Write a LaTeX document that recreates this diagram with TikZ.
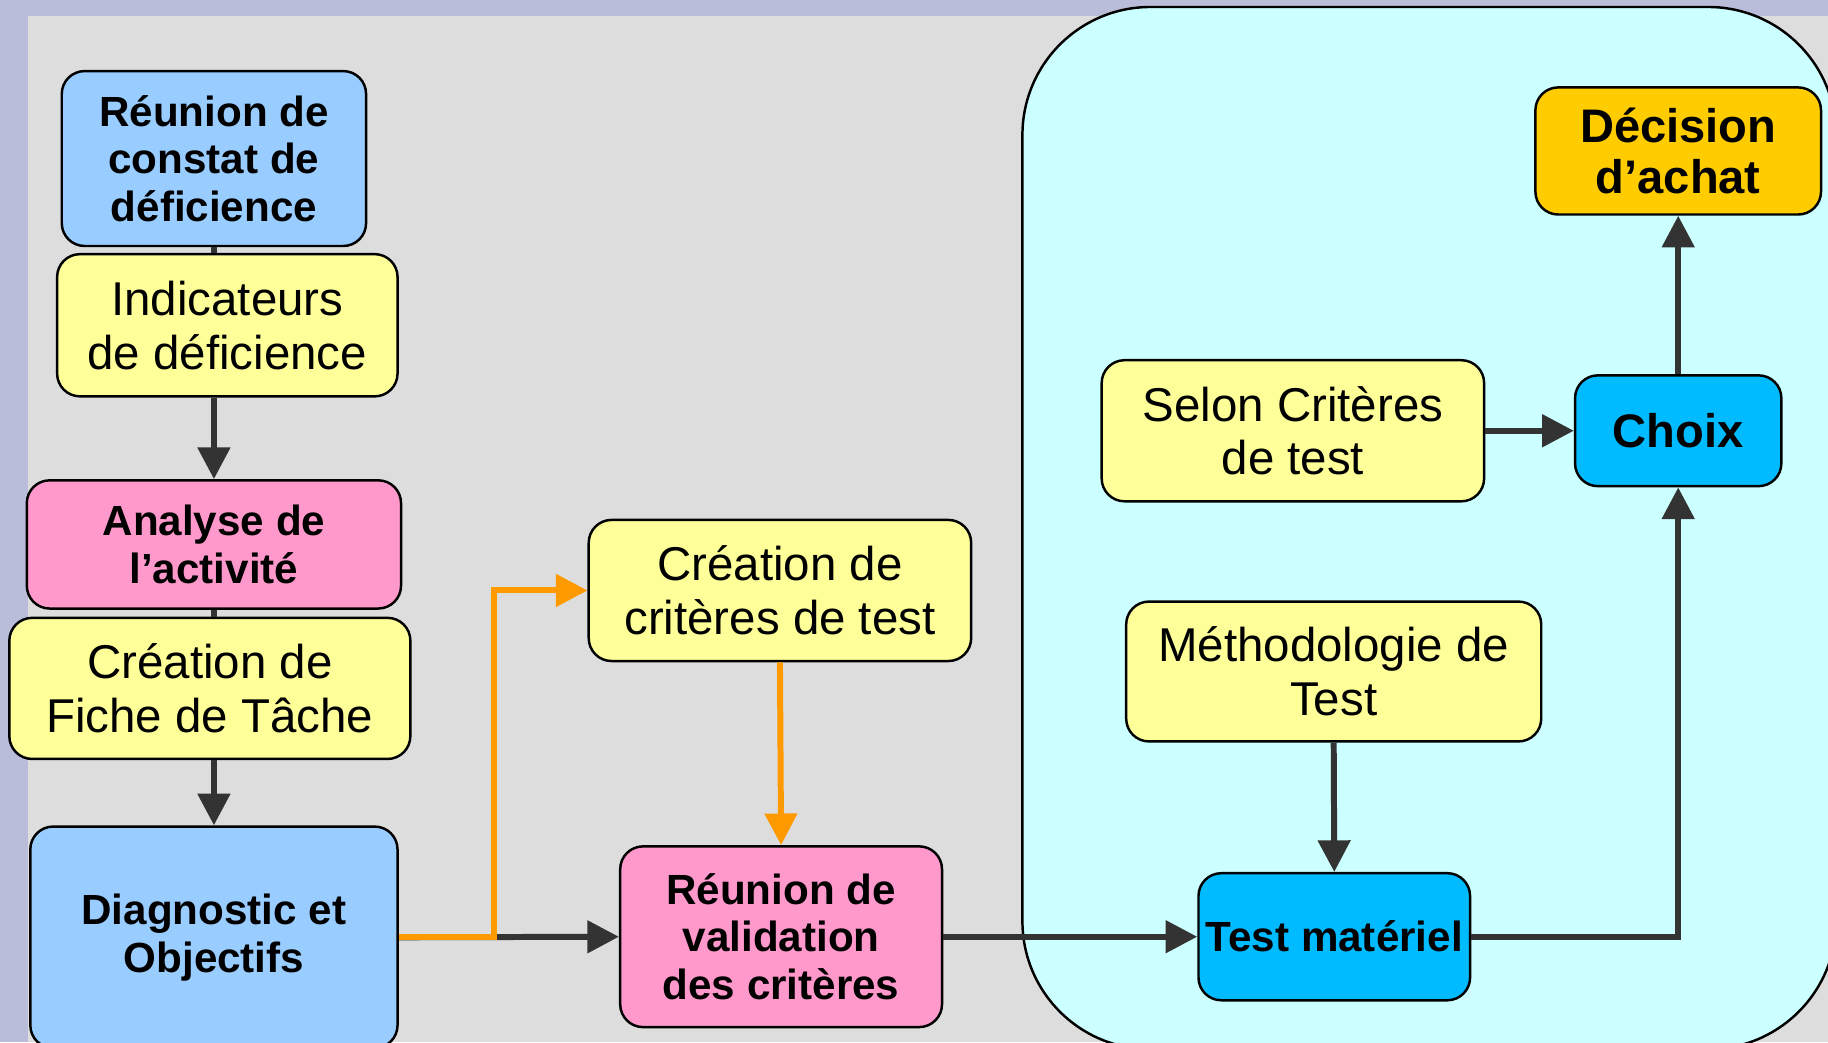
\documentclass[tikz,border=0pt]{standalone}
\usepackage{fontspec}
\setmainfont{Liberation Sans}
\usepackage{tikz}
\usetikzlibrary{arrows.meta, positioning, calc}

\definecolor{lavande}{HTML}{B9BDD9}
\definecolor{fond}{HTML}{DDDDDD}
\definecolor{zone}{HTML}{CCFFFF}
\definecolor{jaune}{HTML}{FFFF99}
\definecolor{bleu}{HTML}{99CCFF}
\definecolor{rose}{HTML}{FF99CC}
\definecolor{vif}{HTML}{00BBFF}
\definecolor{or}{HTML}{FFCC00}
\definecolor{orange}{HTML}{FF9900}
\definecolor{sombre}{HTML}{333333}

\begin{document}
\begin{tikzpicture}[x=0.011658cm, y=-0.011658cm,
	box/.style={draw, line width=0.7pt, rounded corners=6.5pt, align=center, inner sep=1pt},
	txtbox/.style={box, fill=jaune, font=\fontsize{13.5}{15.3}\selectfont},
	keybox/.style={box, font=\fontsize{12}{13.6}\selectfont\bfseries},
	link/.style={draw=sombre, line width=1.7pt},
	arrow/.style={link, -{Triangle[length=9pt,width=9pt]}},
	orangearrow/.style={arrow, draw=orange}]
	\useasboundingbox (0,0) rectangle (1568,894);
	% fond
	\begin{scope}
		\clip (0,0) rectangle (1568,894);
		\fill[lavande] (0,0) rectangle (1568,894);
		\fill[fond] (24,14) rectangle (1568,894);
		\draw[fill=zone, line width=0.7pt, rounded corners=1.28cm] (877,6) rectangle (1575,900);
	\end{scope}

	% colonne de gauche
	\node[keybox, fill=bleu, minimum width=3.043cm, minimum height=1.749cm] (reunion) at (183.5,136) {Réunion de\\constat de\\déficience};
	\node[txtbox, minimum width=3.404cm, minimum height=1.422cm] (indic) at (195,279) {Indicateurs\\de déficience};
	\node[keybox, fill=rose, minimum width=3.742cm, minimum height=1.282cm] (analyse) at (183.5,467) {Analyse de\\l’activité};
	\node[txtbox, minimum width=4.010cm, minimum height=1.411cm] (fiche) at (180,590.5) {Création de\\Fiche de Tâche};
	\node[keybox, fill=bleu, minimum width=3.672cm, minimum height=2.215cm] (diag) at (183.5,804) {Diagnostic et\\Objectifs};

	% milieu
	\node[txtbox, minimum width=3.824cm, minimum height=1.411cm] (crit) at (669,506.5) {Création de\\critères de test};
	\node[keybox, fill=rose, minimum width=3.218cm, minimum height=1.807cm] (valid) at (670,803.5) {Réunion de\\validation\\des critères};

	% zone de test
	\node[keybox, fill=vif, minimum width=2.716cm, minimum height=1.271cm] (test) at (1144.5,803.5) {Test matériel};
	\node[txtbox, minimum width=4.150cm, minimum height=1.399cm] (methodo) at (1144,576) {Méthodologie de\\Test};
	\node[txtbox, minimum width=3.824cm, minimum height=1.411cm] (selon) at (1109,369.5) {Selon Critères\\de test};
	\node[keybox, fill=vif, font=\fontsize{13.4}{14.6}\selectfont\bfseries, minimum width=2.063cm, minimum height=1.108cm] (choix) at (1439.5,369.5) {Choix};
	\node[keybox, fill=or, font=\fontsize{13.4}{14.6}\selectfont\bfseries, minimum width=2.856cm, minimum height=1.271cm] (decision) at (1439.5,129.5) {Décision\\d’achat};

	% liens
	\draw[link] (reunion.south) -- (reunion.south |- indic.north);
	\draw[arrow] (indic.south -| analyse.north) -- (analyse.north);
	\draw[link] (analyse.south) -- (analyse.south |- fiche.north);
	\draw[arrow] (fiche.south -| diag.north) -- (diag.north);
	\draw[arrow] (diag.east) -- (valid.west);
	\draw[orangearrow] (diag.east) -- ++(82,0) |- (crit.west);
	\draw[orangearrow] (crit.south) -- (valid.north);
	\draw[arrow] (valid.east) -- (test.west);
	\draw[arrow] (methodo.south) -- (test.north);
	\draw[arrow] (selon.east) -- (choix.west);
	\draw[arrow] (test.east) -| (choix.south);
	\draw[arrow] (choix.north) -- (decision.south);
\end{tikzpicture}
\end{document}
